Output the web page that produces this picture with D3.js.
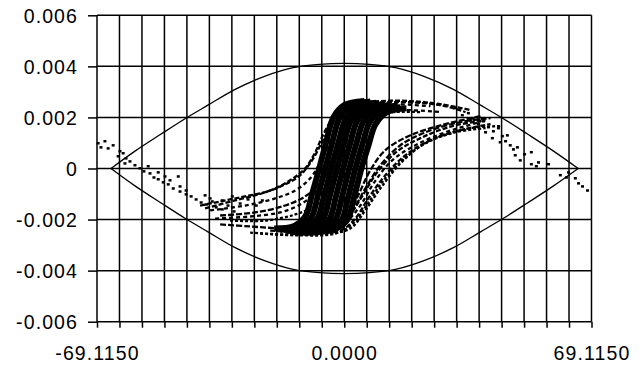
<!DOCTYPE html>
<html>
<head>
<meta charset="utf-8">
<script src="https://cdn.jsdelivr.net/npm/d3@7"></script>
<style>
body { margin: 0; background: #fff; }
text { font-family: "Liberation Sans", Arial, sans-serif; font-size: 19.5px; fill: #000; letter-spacing: 1.1px; }
</style>
</head>
<body>
<div id="chart"></div>
<script>
// axis ticks
var yTicks = [0.006, 0.004, 0.002, 0, -0.002, -0.004, -0.006];
var yTickLabels = ["0.006", "0.004", "0.002", "0", "-0.002", "-0.004", "-0.006"];
var xLabels = ["-69.1150", "0.0000", "69.1150"];
var xMin = -69.115, xMax = 69.115;
var xGridStep = 6.28318;

// lens shaped envelope
var envX = [-65.2, -58.5, -51.2, -44.5, -38.1, -30.5, -22.1, -14.3, -7.0, 0, 7.0, 14.3, 22.1, 30.5, 38.1, 44.5, 51.2, 58.5, 65.4];
var envUpper = [0, 0.00068, 0.00135, 0.00195, 0.00248, 0.00310, 0.00362, 0.00395, 0.00408, 0.00412, 0.00408, 0.00395, 0.00362, 0.00310, 0.00248, 0.00195, 0.00135, 0.00068, 0];
var envLower = [0, -0.00068, -0.00135, -0.00195, -0.00248, -0.00310, -0.00362, -0.00395, -0.00408, -0.00412, -0.00408, -0.00395, -0.00362, -0.00310, -0.00248, -0.00195, -0.00135, -0.00068, 0];

// sparse points at both ends
var leftTail = [[-68.8,0.00099],[-68.0,0.00083],[-66.9,0.00107],[-66.0,0.00079],[-64.6,0.00091],[-63.2,0.00048],[-62.7,0.00068],[-61.8,0.00060],[-61.3,0.00020],[-61.0,0.00040],[-59.9,0.00028],[-58.5,0.00013],[-57.1,0.00001],[-56.0,-0.00011],[-54.8,0.00009],[-54.3,-0.00019],[-53.2,-0.00035],[-52.0,-0.00042],[-52.0,-0.00015],[-50.6,-0.00054],[-50.1,-0.00031],[-49.2,-0.00062],[-48.7,-0.00046],[-47.8,-0.00078],[-46.4,-0.00031],[-45.9,-0.00090],[-45.9,-0.00070],[-44.2,-0.00101],[-44.2,-0.00086],[-42.8,-0.00109],[-41.4,-0.00121],[-40.0,-0.00133],[-38.9,-0.00105],[-38.6,-0.00141],[-37.5,-0.00117],[-36.9,-0.00129],[-35.8,-0.00152],[-34.1,-0.00160],[-34.1,-0.00125],[-32.5,-0.00145],[-31.3,-0.00109],[-30.8,-0.00168],[-29.1,-0.00137],[-26.9,-0.00121],[-24.6,-0.00145],[-22.9,-0.00125]];
var rightTail = [[31.1,0.00237],[33.0,0.00209],[34.7,0.00217],[35.3,0.00189],[36.1,0.00197],[37.5,0.00174],[37.5,0.00193],[38.9,0.00185],[39.5,0.00142],[40.3,0.00162],[41.4,0.00119],[41.7,0.00146],[43.1,0.00158],[43.6,0.00103],[44.2,0.00127],[45.1,0.00107],[45.6,0.00130],[46.4,0.00091],[47.3,0.00075],[47.8,0.00052],[48.4,0.00083],[49.2,0.00032],[50.4,0.00056],[52.3,0.00064],[52.3,0.00017],[53.7,0.00009],[54.3,0.00024],[57.1,0.00017],[60.4,-0.00026],[62.1,-0.00035],[62.7,-0.00015],[64.6,-0.00038],[65.5,-0.00058],[66.6,-0.00070],[68.0,-0.00086]];

// dotted S-curves fanning out
var fanL1 = [[-40.3,-0.00145],[-29.1,-0.00113],[-20.7,-0.00086],[-15.1,-0.00046],[-10.9,0.00001],[-8.1,0.00064],[-6.2,0.00123],[-3.9,0.00182],[-1.1,0.00229],[3.1,0.00252],[10.1,0.00264],[18.5,0.00264],[26.9,0.00252],[35.3,0.00229]];
var fanL2 = [[-37.5,-0.00164],[-27.7,-0.00145],[-19.3,-0.00117],[-13.7,-0.00086],[-9.5,-0.00038],[-6.7,0.00024],[-4.5,0.00091],[-2.2,0.00158],[0.3,0.00213],[4.5,0.00241],[12.9,0.00252],[24.1,0.00244]];
var fanL3 = [[-34.7,-0.00184],[-24.9,-0.00172],[-16.5,-0.00145],[-10.9,-0.00109],[-7.3,-0.00066],[-4.5,0.00001],[-2.5,0.00072],[-0.6,0.00142],[1.7,0.00197],[7.3,0.00229],[15.7,0.00237]];
var fanL4 = [[-31.9,-0.00204],[-22.1,-0.00204],[-13.7,-0.00180],[-8.1,-0.00145],[-4.5,-0.00097],[-2.0,-0.00026],[0,0.00052],[1.7,0.00130],[3.9,0.00189],[10.1,0.00217],[21.3,0.00221]];
var fanL5 = [[-38.9,-0.00156],[-30.5,-0.00125],[-22.9,-0.00097],[-16.5,-0.00062],[-12.3,-0.00026],[-9.0,0.00032],[-6.2,0.00103],[-3.4,0.00174],[-0.6,0.00221],[4.5,0.00248],[14.3,0.00260],[26.9,0.00248],[33.9,0.00221]];
var fanL6 = [[-36.1,-0.00196],[-26.3,-0.00188],[-17.9,-0.00172],[-12.3,-0.00141],[-8.1,-0.00094],[-5.0,-0.00026],[-2.8,0.00040],[-1.1,0.00111],[1.1,0.00174],[5.9,0.00217],[15.7,0.00229],[26.9,0.00221]];
var fanB1 = [[-34.7,-0.00219],[-26.3,-0.00227],[-17.9,-0.00235],[-9.5,-0.00239],[-2.5,-0.00227],[1.1,-0.00184],[3.9,-0.00105],[7.3,-0.00007],[11.5,0.00072],[18.5,0.00130],[28.3,0.00174],[38.1,0.00205]];
var fanR1 = [[-26.3,-0.00251],[-15.1,-0.00259],[-3.9,-0.00255],[1.7,-0.00235],[5.9,-0.00164],[10.1,-0.00078],[15.7,0.00020],[21.3,0.00087],[26.9,0.00127],[35.3,0.00158],[43.6,0.00166]];
var fanR2 = [[-20.7,-0.00243],[-9.5,-0.00251],[-1.1,-0.00243],[3.1,-0.00196],[6.7,-0.00117],[11.5,-0.00026],[17.1,0.00052],[24.1,0.00111],[32.5,0.00150],[40.9,0.00174]];
var fanR3 = [[-15.1,-0.00235],[-5.3,-0.00239],[0.3,-0.00211],[4.5,-0.00145],[8.4,-0.00054],[13.4,0.00032],[19.9,0.00091],[28.3,0.00142],[38.1,0.00182]];
var fanR4 = [[-12.3,-0.00223],[-2.5,-0.00219],[2.2,-0.00164],[5.9,-0.00078],[10.1,0.00013],[15.7,0.00091],[22.7,0.00142],[32.5,0.00182],[40.9,0.00197]];
var fanR5 = [[-23.5,-0.00255],[-12.3,-0.00262],[-2.5,-0.00255],[2.2,-0.00219],[6.2,-0.00145],[10.6,-0.00054],[16.2,0.00032],[22.7,0.00099],[31.1,0.00142],[39.5,0.00158]];
var fanR6 = [[-13.7,-0.00227],[-3.9,-0.00231],[1.1,-0.00188],[5.0,-0.00109],[9.2,-0.00015],[14.5,0.00064],[21.3,0.00119],[30.2,0.00166],[39.5,0.00189]];

// dense steep band in the middle
var band0 = [[-19.6,-0.00235],[-14.0,-0.00225],[-10.9,-0.00188],[-9.0,-0.00100],[-7.0,0],[-5.0,0.00106],[-3.1,0.00198],[0,0.00248],[5.6,0.00264]];
var band1 = [[-17.9,-0.00240],[-12.3,-0.00230],[-9.2,-0.00192],[-7.3,-0.00102],[-5.3,0],[-3.3,0.00105],[-1.4,0.00195],[1.7,0.00245],[7.3,0.00262]];
var band2 = [[-16.2,-0.00245],[-10.6,-0.00235],[-7.5,-0.00196],[-5.6,-0.00105],[-3.6,0],[-1.6,0.00103],[0.3,0.00190],[3.4,0.00240],[9.0,0.00258]];
var band3 = [[-14.6,-0.00250],[-9.0,-0.00238],[-5.9,-0.00198],[-4.0,-0.00105],[-2.0,0],[0,0.00103],[1.9,0.00188],[5.0,0.00236],[10.6,0.00252]];
var band4 = [[-12.9,-0.00252],[-7.3,-0.00240],[-4.2,-0.00200],[-2.3,-0.00108],[-0.3,0],[1.7,0.00100],[3.6,0.00186],[6.7,0.00233],[12.3,0.00248]];
var band5 = [[-11.2,-0.00252],[-5.6,-0.00242],[-2.5,-0.00202],[-0.6,-0.00110],[1.4,0],[3.4,0.00098],[5.3,0.00182],[8.4,0.00230],[14.0,0.00245]];
var band6 = [[-9.5,-0.00250],[-3.9,-0.00240],[-0.8,-0.00205],[1.1,-0.00112],[3.1,0],[5.1,0.00095],[7.0,0.00178],[10.1,0.00226],[15.7,0.00240]];
var band7 = [[-7.8,-0.00245],[-2.2,-0.00235],[0.9,-0.00200],[2.8,-0.00110],[4.8,0],[6.8,0.00092],[8.7,0.00172],[11.8,0.00220],[17.4,0.00236]];

var w = 644, h = 368;
var margin = {top: 15.3, right: 52.5, bottom: 46.3, left: 97};

var svg = d3.select("#chart").append("svg")
    .attr("width", w)
    .attr("height", h);

var xScale = d3.scaleLinear()
    .domain([xMin, xMax])
    .range([margin.left, w - margin.right]);

var yScale = d3.scaleLinear()
    .domain([-0.006, 0.006])
    .range([h - margin.bottom, margin.top]);

var gridX = d3.range(23).map(function(i) { return xMin + i * xGridStep; });

// grid
svg.append("g").selectAll("line").data(gridX).enter().append("line")
    .attr("x1", function(d) { return xScale(d); })
    .attr("x2", function(d) { return xScale(d); })
    .attr("y1", yScale(0.006))
    .attr("y2", yScale(-0.006))
    .attr("stroke", "#000").attr("stroke-width", 1.5);

svg.append("g").selectAll("line").data(yTicks).enter().append("line")
    .attr("x1", xScale(xMin))
    .attr("x2", xScale(xMax))
    .attr("y1", function(d) { return yScale(d); })
    .attr("y2", function(d) { return yScale(d); })
    .attr("stroke", "#000").attr("stroke-width", 1.5);

// axes (ticks + labels)
var xAxis = d3.axisBottom(xScale)
    .tickValues(gridX)
    .tickSize(6)
    .tickPadding(18)
    .tickFormat(function(d, i) { return i % 11 === 0 ? xLabels[i / 11] : ""; });

var yAxis = d3.axisLeft(yScale)
    .tickValues(yTicks)
    .tickSize(9)
    .tickPadding(10)
    .tickFormat(function(d, i) { return yTickLabels[i]; });

var xAxisGroup = svg.append("g")
    .attr("transform", "translate(" + [0, yScale(-0.006)] + ")")
    .call(xAxis);
var yAxisGroup = svg.append("g")
    .attr("transform", "translate(" + [xScale(xMin), 0] + ")")
    .call(yAxis);

[xAxisGroup, yAxisGroup].forEach(function(g) {
    g.select(".domain").remove();
    g.selectAll(".tick line").attr("stroke", "#000").attr("stroke-width", 1.5);
    g.selectAll("text").attr("fill", "#111").style("font-size", "19.5px")
        .style("font-family", "'Liberation Sans', Arial, sans-serif");
});
yAxisGroup.selectAll("text").attr("dy", "0.36em");

// envelope
var envLine = d3.line()
    .x(function(d) { return xScale(d[0]); })
    .y(function(d) { return yScale(d[1]); })
    .curve(d3.curveCatmullRom);

[envUpper, envLower].forEach(function(vals) {
    svg.append("path")
        .datum(envX.map(function(x, i) { return [x, vals[i]]; }))
        .attr("d", envLine)
        .attr("fill", "none")
        .attr("stroke", "#000")
        .attr("stroke-width", 1.3);
});

// S-curves
var curveLine = d3.line()
    .x(function(d) { return xScale(d[0]); })
    .y(function(d) { return yScale(d[1]); })
    .curve(d3.curveCatmullRom);

var fans = [fanL1, fanL2, fanL3, fanL4, fanL5, fanL6, fanB1, fanR1, fanR2, fanR3, fanR4, fanR5, fanR6];
svg.append("g").selectAll("path").data(fans).enter().append("path")
    .attr("d", curveLine)
    .attr("fill", "none")
    .attr("stroke", "#000")
    .attr("stroke-width", 2.3)
    .attr("stroke-dasharray", function(d, i) { return ["5,2", "4,3", "6,2", "3,2"][i % 4]; });

var bands = [band0, band1, band2, band3, band4, band5, band6, band7];
svg.append("g").selectAll("path").data(bands).enter().append("path")
    .attr("d", curveLine)
    .attr("fill", "none")
    .attr("stroke", "#000")
    .attr("stroke-width", 6);

// tail dots
svg.append("g").selectAll("rect").data(leftTail.concat(rightTail)).enter().append("rect")
    .attr("x", function(d) { return xScale(d[0]) - 1.5; })
    .attr("y", function(d) { return yScale(d[1]) - 1.2; })
    .attr("width", 3)
    .attr("height", 2.5)
    .attr("fill", "#000");
</script>
</body>
</html>
